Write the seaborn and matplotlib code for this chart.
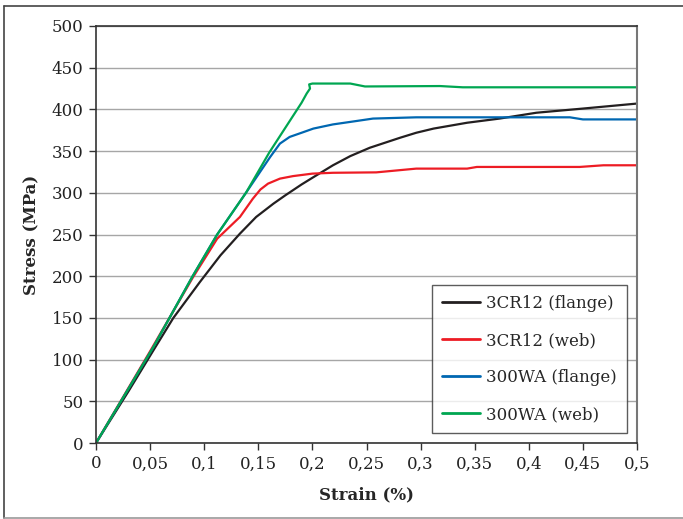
import numpy as np
import pandas as pd
import matplotlib.pyplot as plt
import seaborn as sns
from matplotlib.lines import Line2D

# =========================================================
# DATA
# =========================================================

strain_3cr12_flange = [0, 0.03, 0.053, 0.0715, 0.096, 0.115, 0.133, 0.148, 0.164,
                       0.175, 0.19, 0.2, 0.219, 0.235, 0.253, 0.281, 0.296, 0.312,
                       0.343, 0.373, 0.407, 0.45, 0.5]
stress_3cr12_flange = [0, 62, 111, 150, 193, 225, 251, 271, 287,
                       297, 310, 318, 333, 344, 354, 366, 372, 377,
                       384, 389, 396, 401, 407]

strain_3cr12_web = [0, 0.05, 0.0893, 0.112, 0.133, 0.145, 0.152, 0.159, 0.17,
                    0.182, 0.2, 0.219, 0.259, 0.296, 0.343, 0.352, 0.447, 0.469, 0.5]
stress_3cr12_web = [0, 110, 198, 245, 271, 293, 304, 311, 317,
                    320, 323, 324, 324.5, 329, 329, 331, 331, 333, 333]

strain_300wa_flange = [0, 0.053, 0.0893, 0.112, 0.1386, 0.161, 0.170, 0.179,
                       0.19, 0.2009, 0.219, 0.235, 0.256, 0.296, 0.438, 0.45, 0.5]
stress_300wa_flange = [0, 115, 200, 250, 300, 343, 359, 367,
                       372, 377, 382, 385, 389, 390.5, 390.5, 388, 388]

strain_300wa_web = [0, 0.053, 0.0893, 0.112, 0.1386, 0.16, 0.172, 0.1855, 0.19,
                    0.1947, 0.1978, 0.197, 0.2, 0.235, 0.2486, 0.318, 0.339, 0.5]
stress_300wa_web = [0, 115, 200, 250, 300, 348, 372, 399, 408,
                    419, 425, 430, 431, 431, 427.5, 428, 426.5, 426.5]

series_names = ["3CR12 (flange)", "3CR12 (web)", "300WA (flange)", "300WA (web)"]
series_colors = ["#231f20", "#ed1c24", "#0067b1", "#00a651"]

x_ticks = [0, 0.05, 0.1, 0.15, 0.2, 0.25, 0.3, 0.35, 0.4, 0.45, 0.5]
x_tick_labels = ["0", "0,05", "0,1", "0,15", "0,2", "0,25", "0,3", "0,35",
                 "0,4", "0,45", "0,5"]
y_ticks = [0, 50, 100, 150, 200, 250, 300, 350, 400, 450, 500]

# =========================================================
# LONG TABLE
# =========================================================

frames = []
for name, xs, ys in zip(
        series_names,
        [strain_3cr12_flange, strain_3cr12_web, strain_300wa_flange, strain_300wa_web],
        [stress_3cr12_flange, stress_3cr12_web, stress_300wa_flange, stress_300wa_web]):
    frames.append(pd.DataFrame({"Strain": xs, "Stress": ys, "Series": name}))
data = pd.concat(frames, ignore_index=True)

# =========================================================
# STYLE
# =========================================================

sns.set_style("white")
plt.rcParams["font.family"] = ["DejaVu Serif"]

fig = plt.figure(figsize=(6.83, 5.19), dpi=100)
ax = fig.add_axes([96 / 683, 1 - 443 / 519, 541 / 683, 417 / 519])

sns.lineplot(
    data=data,
    x="Strain",
    y="Stress",
    hue="Series",
    hue_order=series_names,
    palette=series_colors,
    estimator=None,
    sort=False,
    linewidth=1.6,
    ax=ax
)

# =========================================================
# AXES
# =========================================================

ax.set_xlim(0, 0.5)
ax.set_ylim(0, 500)
ax.set_xticks(x_ticks)
ax.set_xticklabels(x_tick_labels)
ax.set_yticks(y_ticks)
ax.tick_params(axis="both", direction="out", length=5, width=1,
               color="#333333", labelsize=12, pad=4, labelcolor="#222222")
ax.tick_params(bottom=True, left=True)

ax.grid(axis="y", color="#a6a6a6", linewidth=1)
ax.set_axisbelow(True)

for side in ["left", "bottom", "top"]:
    ax.spines[side].set_color("#333333")
    ax.spines[side].set_linewidth(1.2)
ax.spines["right"].set_color("#777777")
ax.spines["right"].set_linewidth(1.5)

ax.set_xlabel("Strain (%)", fontweight="bold", fontsize=12, labelpad=10)
ax.set_ylabel("Stress (MPa)", fontweight="bold", fontsize=12, labelpad=8)

# =========================================================
# LEGEND
# =========================================================

leg = ax.legend(
    loc="lower right",
    bbox_to_anchor=(0.981, 0.024),
    borderaxespad=0,
    fontsize=12,
    frameon=True,
    fancybox=False,
    handlelength=2.3,
    labelspacing=1.2,
    borderpad=0.6,
    handletextpad=0.36
)
leg.get_frame().set_edgecolor("#333333")
leg.get_frame().set_linewidth(1.0)
for line in leg.get_lines():
    line.set_linewidth(2)

# =========================================================
# OUTER BORDER
# =========================================================

fig.add_artist(Line2D([4 / 683, 1], [1 - 6 / 519, 1 - 6 / 519],
                      transform=fig.transFigure, color="#444444", linewidth=1.2))
fig.add_artist(Line2D([4 / 683, 4 / 683], [1 - 6 / 519, 1 - 518 / 519],
                      transform=fig.transFigure, color="#444444", linewidth=1.2))
fig.add_artist(Line2D([4 / 683, 1], [1 - 518 / 519, 1 - 518 / 519],
                      transform=fig.transFigure, color="#999999", linewidth=1.2))

fig.savefig("out.png", dpi=100)
plt.close(fig)
